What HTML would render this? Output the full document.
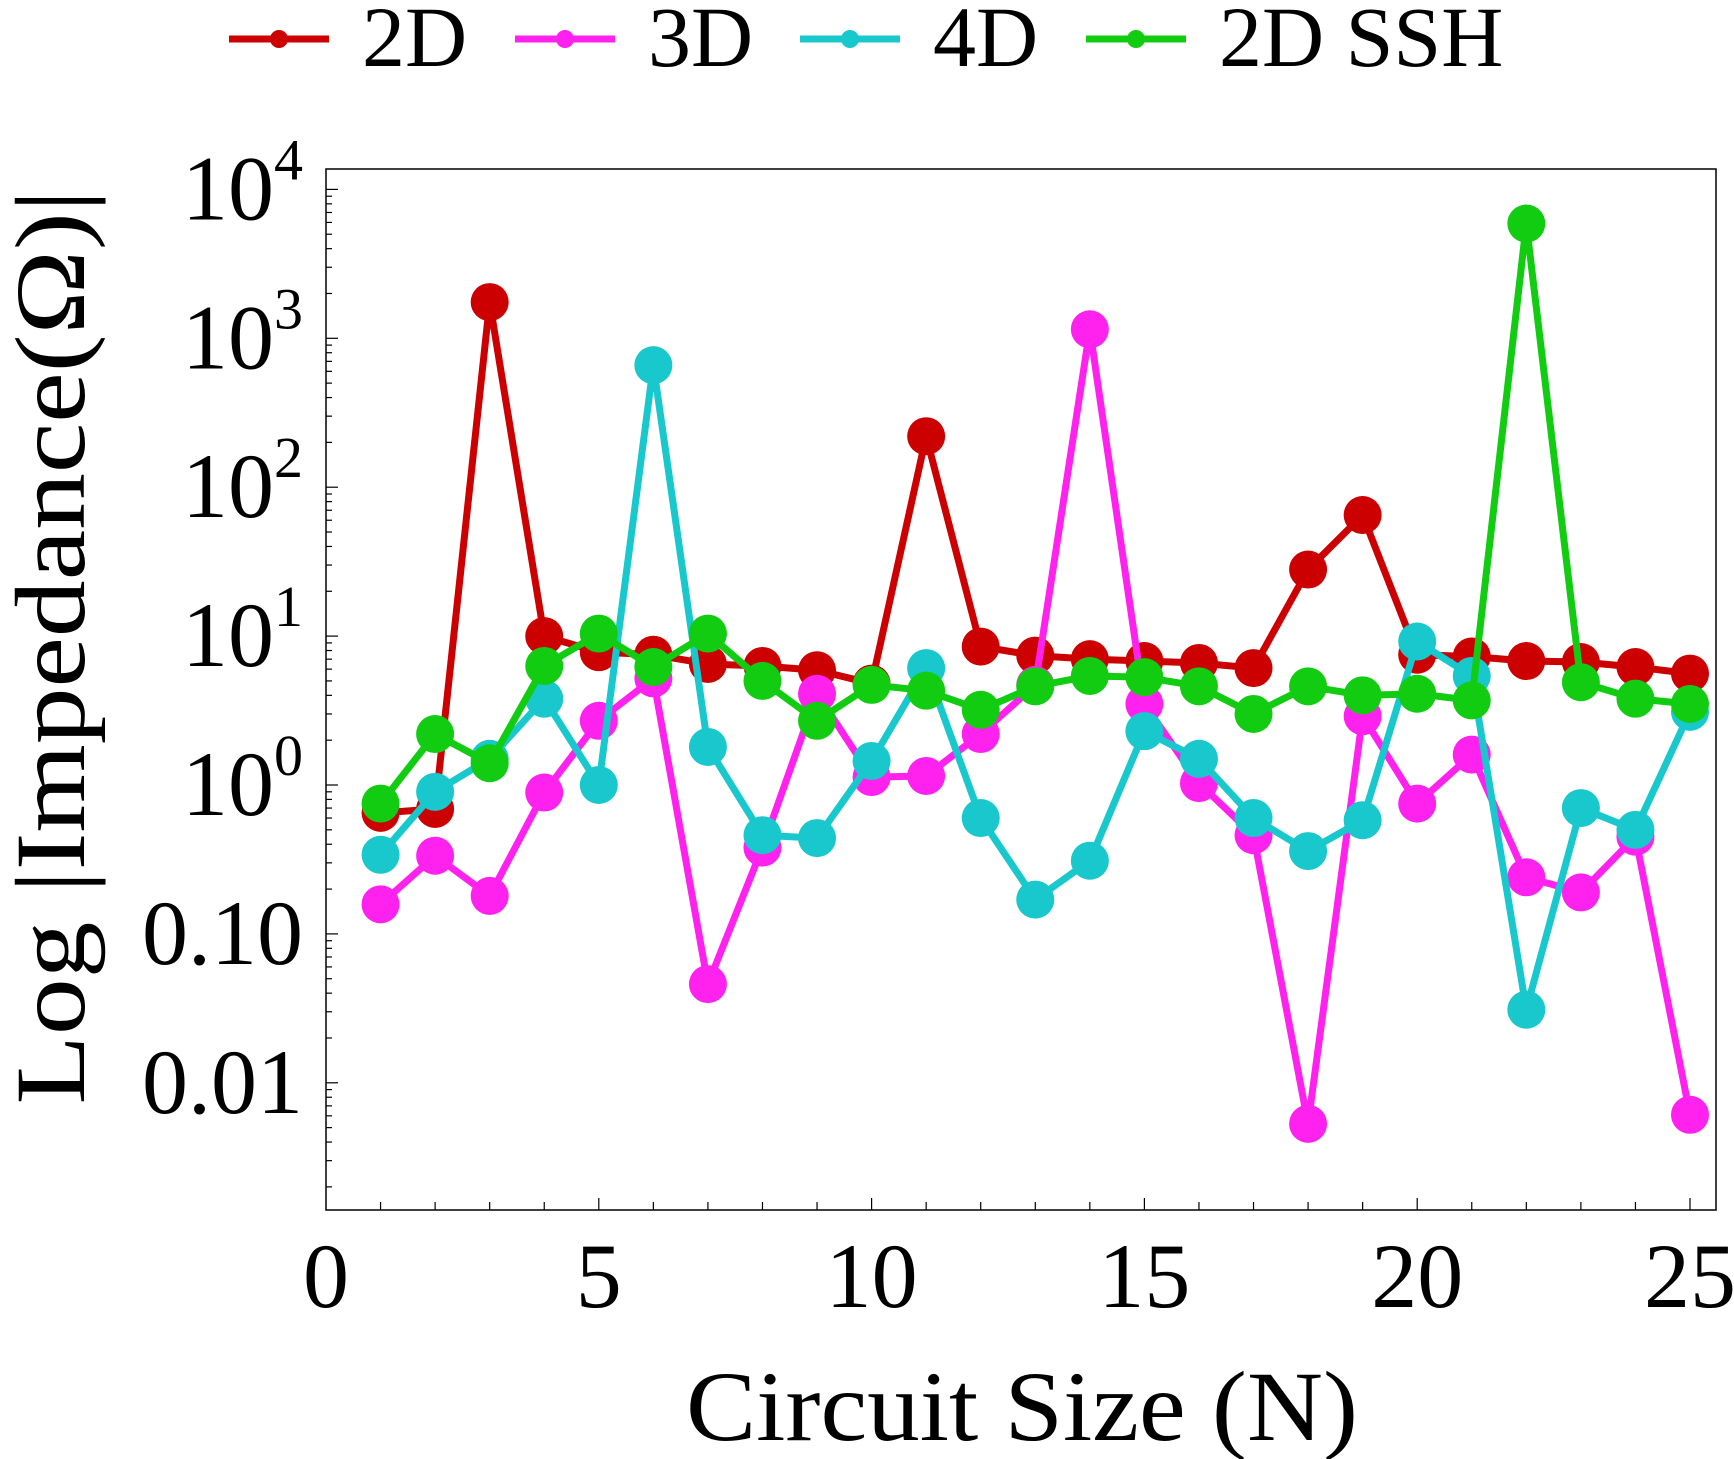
<!DOCTYPE html>
<html><head><meta charset="utf-8"><style>
html,body{margin:0;padding:0;background:#fff;}
svg{display:block;font-family:"Liberation Serif","DejaVu Serif",serif;}
</style></head><body>
<svg id="chart" width="1734" height="1459" viewBox="0 0 1734 1459" xmlns="http://www.w3.org/2000/svg">
<g id="legend"></g>
<g id="axes"></g>
<g id="series"></g>
<text x="1022" y="1440" font-size="100" text-anchor="middle" textLength="672" lengthAdjust="spacingAndGlyphs">Circuit Size (N)</text>
<text transform="translate(84,647) rotate(-90)" font-size="100" text-anchor="middle" textLength="915" lengthAdjust="spacingAndGlyphs">Log |Impedance(Ω)|</text>
</svg>
<script>
const xCategories = [1,2,3,4,5,6,7,8,9,10,11,12,13,14,15,16,17,18,19,20,21,22,23,24,25];
const series2D = [0.65,0.69,1750,10,7.8,7.5,6.5,6.3,5.9,4.8,220,8.5,7.4,7,6.8,6.6,6.1,28,65,7.5,7.3,6.8,6.7,6.2,5.6];
const series3D = [0.158,0.335,0.18,0.89,2.7,5.2,0.046,0.38,4.1,1.13,1.15,2.2,4.7,1150,3.5,1.03,0.46,0.0053,2.9,0.75,1.6,0.24,0.19,0.45,0.0061];
const series4D = [0.34,0.9,1.5,3.8,1.0,660,1.8,0.46,0.44,1.45,6.1,0.6,0.17,0.31,2.3,1.5,0.6,0.36,0.58,9.2,5.4,0.031,0.7,0.5,3.1];
const seriesSSH = [0.75,2.2,1.4,6.3,10.4,6.2,10.4,5,2.7,4.7,4.3,3.2,4.6,5.4,5.3,4.6,3.0,4.6,4.0,4.1,3.7,5900,4.9,3.8,3.5];
const xTickLabels = ["0","5","10","15","20","25"];
const yTickExps = [4,3,2,1,0];
const yTickSmall = ["0.10","0.01"];
const legendLabels = ["2D","3D","4D","2D SSH"];

const NS="http://www.w3.org/2000/svg";
const L=326,R=1716,T=169,B=1210;
const X=v=>326+v*54.56;
const Y=v=>785-Math.log10(v)*148.9;
function mk(tag,attrs,parent){const e=document.createElementNS(NS,tag);for(const k in attrs)e.setAttribute(k,attrs[k]);parent.appendChild(e);return e;}
const axes=document.getElementById('axes');
let f=mk('rect',{x:L,y:T,width:R-L,height:B-T,fill:'none',stroke:'#000','stroke-width':1.5},axes);


for(let i=1;i<=25;i++){let t=mk('line',{x1:X(i),x2:X(i),y1:B,y2:B-(i%5==0?12:8),stroke:'#000','stroke-width':1.2},axes);

}
xTickLabels.forEach(s=>{let t=mk('text',{x:X(+s),y:1307,'font-size':92,'text-anchor':'middle'},axes);t.textContent=s;

});
for(let d=-3;d<=4;d++){for(let m=1;m<10;m++){const v=m*Math.pow(10,d);const y=Y(v);if(y<T||y>B)continue;
let t=mk('line',{x1:L,x2:L+(m==1?12:6),y1:y,y2:y,stroke:'#000','stroke-width':1.2},axes);

}}
yTickExps.forEach(e=>{const y=Y(Math.pow(10,e))+30;let t=mk('text',{x:303,y:y,'font-size':92,'text-anchor':'end'},axes);


const a=mk('tspan',{},t);a.textContent='10';const b=mk('tspan',{dy:-40,'font-size':58},t);b.textContent=String(e);});
yTickSmall.forEach(s=>{const y=Y(+s)+30;let t=mk('text',{x:303,y:y,'font-size':92,'text-anchor':'end'},axes);t.textContent=s;

});
const sg=document.getElementById('series');
const defs=[[series2D,'#cc0000','series-2d'],[series3D,'#ff22ee','series-3d'],[series4D,'#18c8cc','series-4d'],[seriesSSH,'#11cc11','series-2d-ssh']];
defs.forEach(([data,c,name])=>{const g=mk('g',{},sg);


const pts=data.map((v,i)=>X(xCategories[i])+','+Y(v)).join(' ');
mk('polyline',{points:pts,fill:'none',stroke:c,'stroke-width':7,'stroke-linejoin':'round'},g);
data.forEach((v,i)=>{let p=mk('circle',{cx:X(xCategories[i]),cy:Y(v),r:19,fill:c},g);

});});
const lg=document.getElementById('legend');
const colors=['#cc0000','#ff22ee','#18c8cc','#11cc11'];
const lx=[229,515,800,1086];
legendLabels.forEach((s,i)=>{const g=mk('g',{},lg);


mk('line',{x1:lx[i],x2:lx[i]+100,y1:39,y2:39,stroke:colors[i],'stroke-width':7},g);
mk('circle',{cx:lx[i]+50,cy:39,r:9,fill:colors[i]},g);
const t=mk('text',{x:lx[i]+133,y:66,'font-size':86},g);t.textContent=s;});
</script>
</body></html>
